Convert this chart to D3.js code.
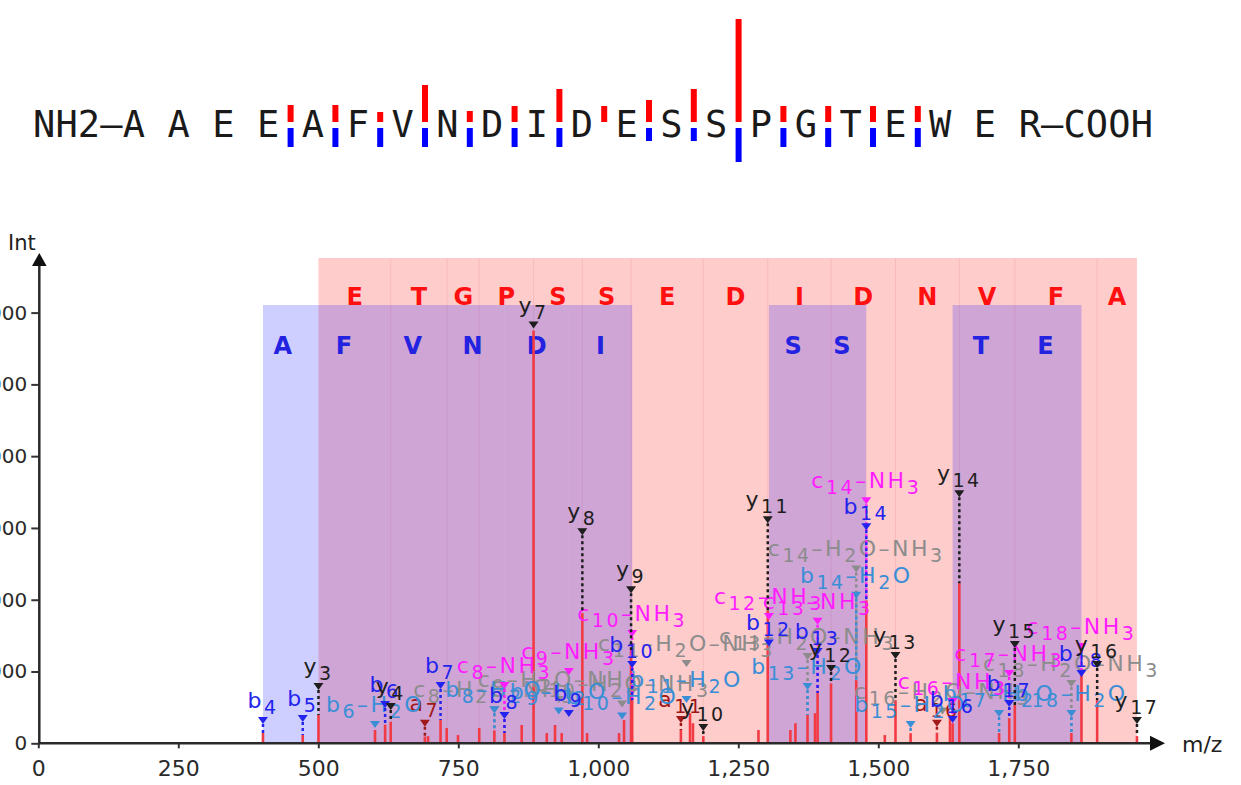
<!DOCTYPE html>
<html>
<head>
<meta charset="utf-8">
<script src="https://cdn.jsdelivr.net/npm/d3@7"></script>
<style>
body { margin: 0; background: #fff; }
svg { display: block; }
text { font-family: "DejaVu Sans", Verdana, sans-serif; }
</style>
</head>
<body>
<div id="chart"></div>
<script>
// peptide + cleavage support shown above the spectrum
var residues = "AAEEAFVNDIDESSPGTEWER".split("");
var cleaveAfter = [3, 4, 5, 6, 7, 8, 9, 10, 11, 12, 13, 14, 15, 16, 17];
var cleaveY = [17, 17, 10, 37, 11, 16, 33, 16, 22, 33, 103, 16, 16, 16, 16];
var cleaveB = [19, 19, 19, 19, 19, 19, 19, 0, 13, 13, 34, 19, 19, 19, 19];

// y-ion ladder (y3..y17) and the residues between rungs
var yLadderMz = [500.3, 629.3, 730.3, 787.4, 884.4, 971.5, 1058.5, 1187.5, 1302.6, 1415.6, 1530.7, 1644.7, 1743.8, 1890.8, 1961.9];
var yLadderRes = ["E", "T", "G", "P", "S", "S", "E", "D", "I", "D", "N", "V", "F", "A"];

// b-ion ladder segments
var bSegStart = [401.2, 472.2, 619.3, 718.3, 832.4, 947.4, 1304.6, 1391.6, 1632.7, 1733.8];
var bSegEnd   = [472.2, 619.3, 718.3, 832.4, 947.4, 1060.5, 1391.6, 1478.6, 1733.8, 1862.8];
var bSegRes   = ["A", "F", "V", "N", "D", "I", "S", "S", "T", "E"];

// peaks
var peakMz  = [401.2, 472.2, 500.3, 601.3, 619.3, 629.3, 690.3, 696, 718.3, 729.3, 749.5, 787.4, 814.4, 832.4, 863.2, 884.4, 908, 922.7, 934.6, 971.5, 980, 1037, 1046, 1058.5, 1060.5, 1147.5, 1163.8, 1169, 1187.5, 1286, 1302.6, 1343, 1352, 1373.6, 1387, 1391.6, 1415.6, 1460.6, 1478.6, 1511.6, 1530.7, 1557.7, 1604.7, 1628, 1632.7, 1644.7, 1715.7, 1733.8, 1743.8, 1844.8, 1862.8, 1890.8, 1961.9];
var peakInt = [143, 115, 394, 185, 260, 300, 95, 100, 324, 213, 115, 213, 180, 143, 255, 5750, 143, 255, 143, 1814, 143, 143, 325, 1300, 600, 185, 420, 280, 100, 185, 1850, 185, 280, 395, 420, 700, 835, 880, 1990, 115, 600, 140, 143, 350, 280, 2231, 143, 350, 533, 143, 950, 600, 100];

// annotations: [ion number, m/z, label level (intensity)]
var annY   = [[3, 500.3, 742], [4, 629.3, 464], [7, 884.4, 5777], [8, 971.5, 2900], [9, 1058.5, 2092], [10, 1187.5, 171], [11, 1302.6, 3067], [12, 1415.6, 992], [13, 1530.7, 1174], [14, 1644.7, 3429], [15, 1743.8, 1327], [16, 1890.8, 1048], [17, 1961.9, 269]];
var annB   = [[4, 401.2, 269], [5, 472.2, 297], [6, 619.3, 491], [7, 718.3, 756], [8, 832.4, 338], [9, 947.4, 366], [10, 1060.5, 1048], [12, 1304.6, 1350], [13, 1391.6, 1230], [14, 1478.6, 2967], [16, 1632.7, 283], [17, 1733.8, 507], [18, 1862.8, 925]];
var annBH2O = [[6, 601.3, 213], [8, 814.4, 420], [9, 929.4, 400], [10, 1042.5, 330], [11, 1157.5, 560], [13, 1373.6, 742], [14, 1460.6, 2014], [15, 1557.7, 213], [17, 1715.7, 366], [18, 1844.8, 366]];
var annCNH3 = [[8, 832.4, 756], [9, 947.4, 950], [10, 1060.5, 1480], [12, 1304.6, 1718], [13, 1391.6, 1650], [14, 1478.6, 3330], [16, 1632.7, 534], [17, 1733.8, 925], [18, 1862.8, 1300]];
var annCH2ONH3 = [[8, 814.4, 420], [9, 929.4, 560], [10, 1042.5, 500], [11, 1157.5, 1062], [13, 1373.6, 1160], [14, 1460.6, 2380], [16, 1614.7, 400], [18, 1844.8, 785]];
var annA = [[7, 690.3, 230], [11, 1147.5, 283], [16, 1604.7, 230]];

var xTicks = [0, 250, 500, 750, 1000, 1250, 1500, 1750];
var yTicks = [0, 1000, 2000, 3000, 4000, 5000, 6000];

var svg = d3.select("#chart").append("svg")
    .attr("width", 1241)
    .attr("height", 785);

// ---------- sequence on top ----------
var adv = 22.4;
var seqX = d3.scaleLinear().domain([0, 1]).range([33, 33 + adv]);
var seq = svg.append("g");
var barY = d3.scaleLinear().domain([0, 100]).range([0, 100]);

var chars = [];
"NH2-".split("").forEach(function(c, i) { chars.push({c: c, k: i}); });
residues.forEach(function(r, i) { chars.push({c: r, k: 4 + 2 * i}); });
"-COOH".split("").forEach(function(c, i) { chars.push({c: c, k: 4 + 2 * residues.length - 1 + i}); });

seq.selectAll("text.res")
    .data(chars)
    .enter().append("text")
    .attr("class", "res")
    .attr("x", function(d) { return seqX(d.k + 0.5); })
    .attr("y", 137)
    .attr("text-anchor", "middle")
    .style("font-family", "'DejaVu Sans Mono', monospace")
    .style("font-size", "37px")
    .attr("fill", "#1a1a1a")
    .text(function(d) { return d.c === "-" ? "\u2013" : d.c; });

seq.selectAll("rect.ybar")
    .data(cleaveAfter)
    .enter().append("rect")
    .attr("x", function(d) { return seqX(4 + 2 * d + 1.5) - 3; })
    .attr("y", function(d, i) { return 122 - barY(cleaveY[i]); })
    .attr("width", 6)
    .attr("height", function(d, i) { return barY(cleaveY[i]); })
    .attr("fill", "#ff0000");

seq.selectAll("rect.bbar")
    .data(cleaveAfter)
    .enter().append("rect")
    .attr("x", function(d) { return seqX(4 + 2 * d + 1.5) - 3; })
    .attr("y", 128)
    .attr("width", 6)
    .attr("height", function(d, i) { return barY(cleaveB[i]); })
    .attr("fill", "#0000ff");

// ---------- spectrum ----------
var x = d3.scaleLinear().domain([0, 2000]).range([38.3, 1158.3]);
var y = d3.scaleLinear().domain([0, 6000]).range([743.3, 312.6]);

var chart = svg.append("g");

// y-ion coverage (red)
var ySegs = yLadderRes.map(function(r, i) { return {r: r, a: yLadderMz[i], b: yLadderMz[i + 1]}; });
chart.selectAll("rect.yseg")
    .data(ySegs)
    .enter().append("rect")
    .attr("x", function(d) { return x(d.a); })
    .attr("y", 258)
    .attr("width", function(d) { return x(d.b) - x(d.a); })
    .attr("height", y(0) - 258)
    .attr("fill", "rgba(255,0,0,0.2)");
chart.selectAll("line.ysep")
    .data(yLadderMz.slice(1, -1))
    .enter().append("line")
    .attr("x1", function(d) { return x(d); })
    .attr("x2", function(d) { return x(d); })
    .attr("y1", 258).attr("y2", y(0))
    .attr("stroke", "rgba(200,60,60,0.12)");

// b-ion coverage (blue)
var bSegs = bSegRes.map(function(r, i) { return {r: r, a: bSegStart[i], b: bSegEnd[i]}; });
chart.selectAll("rect.bseg")
    .data(bSegs)
    .enter().append("rect")
    .attr("x", function(d) { return x(d.a); })
    .attr("y", 305)
    .attr("width", function(d) { return x(d.b) - x(d.a); })
    .attr("height", y(0) - 305)
    .attr("fill", "rgba(0,0,255,0.19)");

chart.selectAll("text.yres")
    .data(ySegs)
    .enter().append("text")
    .attr("x", function(d) { return (x(d.a) + x(d.b)) / 2; })
    .attr("y", 305)
    .attr("text-anchor", "middle")
    .style("font-size", "24px")
    .style("font-weight", "bold")
    .attr("fill", "#ff1010")
    .text(function(d) { return d.r; });

chart.selectAll("text.bres")
    .data(bSegs)
    .enter().append("text")
    .attr("x", function(d) { return (x(d.a) + x(d.b)) / 2; })
    .attr("y", 354)
    .attr("text-anchor", "middle")
    .style("font-size", "24px")
    .style("font-weight", "bold")
    .attr("fill", "#2222e0")
    .text(function(d) { return d.r; });

// peaks
var peaks = peakMz.map(function(m, i) { return {mz: m, inten: peakInt[i]}; });
chart.selectAll("line.peak")
    .data(peaks)
    .enter().append("line")
    .attr("x1", function(d) { return x(d.mz); })
    .attr("x2", function(d) { return x(d.mz); })
    .attr("y1", y(0))
    .attr("y2", function(d) { return y(d.inten); })
    .attr("stroke", "#f23a44")
    .attr("stroke-width", 2.6);

// ion annotations
var ionTypes = [
    {data: annCH2ONH3, fmt: "c_N-H_2O-NH_3", color: "#8c8c8c"},
    {data: annA, fmt: "a_N", color: "#a01818"},
    {data: annBH2O, fmt: "b_N-H_2O", color: "#3a8ed6"},
    {data: annCNH3, fmt: "c_N-NH_3", color: "#ff1cff"},
    {data: annB, fmt: "b_N", color: "#2323ee"},
    {data: annY, fmt: "y_N", color: "#1e1e1e"}
];

function nearestPeak(mz) {
    var best = null;
    peaks.forEach(function(p) {
        if (Math.abs(p.mz - mz) < 3 && (!best || Math.abs(p.mz - mz) < Math.abs(best.mz - mz))) best = p;
    });
    return best;
}

function addLabel(g, str, px, py, color) {
    var t = g.append("text")
        .attr("x", px).attr("y", py)
        .attr("text-anchor", "middle")
        .attr("fill", color)
        .style("font-size", "22px")
        .style("letter-spacing", "2.5px");
    var parts = str.split(/(_\d+)/).filter(function(s) { return s.length; });
    var sub = false;
    parts.forEach(function(p) {
        if (p[0] === "_") {
            t.append("tspan").attr("dy", 6).style("font-size", "19px").text(p.slice(1));
            sub = true;
        } else {
            var ts = t.append("tspan").text(p.replace(/-/g, "\u2013"));
            if (sub) { ts.attr("dy", -6); sub = false; }
        }
    });
}

var ann = chart.append("g");
ionTypes.forEach(function(type) {
    type.data.forEach(function(a) {
        var px = x(a[1]);
        var tip = y(a[2]);
        var pk = nearestPeak(a[1]);
        if (pk && y(pk.inten) > tip + 4) {
            ann.append("line")
                .attr("x1", px).attr("x2", px)
                .attr("y1", tip).attr("y2", y(pk.inten))
                .attr("stroke", type.color)
                .attr("stroke-width", 2.5)
                .attr("stroke-dasharray", "3,3");
        }
        ann.append("path")
            .attr("d", "M" + (px - 5) + "," + (tip - 7) + "L" + (px + 5) + "," + (tip - 7) + "L" + px + "," + tip + "Z")
            .attr("fill", type.color);
        addLabel(ann, type.fmt.replace("N", a[0]), px, tip - 16, type.color);
    });
});

// ---------- axes ----------
var xAxis = svg.append("g")
    .attr("transform", "translate(0," + y(0) + ")")
    .call(d3.axisBottom(x).tickValues(xTicks).tickSize(5).tickPadding(12).tickFormat(d3.format(",")));
xAxis.select(".domain").remove();
xAxis.selectAll(".tick line").attr("stroke", "#333").attr("stroke-width", 2);
xAxis.selectAll(".tick text")
    .style("font-size", "22px")
    .style("font-family", "'DejaVu Sans', sans-serif")
    .attr("fill", "#2a2a2a");

var yAxis = svg.append("g")
    .attr("transform", "translate(39.3,0)")
    .call(d3.axisLeft(y).tickValues(yTicks).tickSize(8).tickPadding(4).tickFormat(d3.format(",")));
yAxis.select(".domain").remove();
yAxis.selectAll(".tick line").attr("stroke", "#333").attr("stroke-width", 2);
yAxis.selectAll(".tick text")
    .style("font-size", "20px")
    .style("font-family", "'DejaVu Sans', sans-serif")
    .attr("fill", "#2a2a2a");

svg.append("line")
    .attr("x1", 38.3).attr("x2", 1152)
    .attr("y1", y(0)).attr("y2", y(0))
    .attr("stroke", "#2a2a2a").attr("stroke-width", 2.5);
svg.append("path")
    .attr("d", "M1150," + (y(0) - 7.5) + "L1165," + y(0) + "L1150," + (y(0) + 7.5) + "Z")
    .attr("fill", "#111");
svg.append("line")
    .attr("x1", 39.3).attr("x2", 39.3)
    .attr("y1", y(0)).attr("y2", 264)
    .attr("stroke", "#2a2a2a").attr("stroke-width", 2.5);
svg.append("path")
    .attr("d", "M32,266L39.3,253L46.6,266Z")
    .attr("fill", "#111");

svg.append("text")
    .attr("x", 1182).attr("y", 752)
    .style("font-size", "22px")
    .attr("fill", "#222")
    .text("m/z");
svg.append("text")
    .attr("x", 8).attr("y", 250)
    .style("font-size", "21px")
    .attr("fill", "#222")
    .text("Int");
</script>
</body>
</html>
